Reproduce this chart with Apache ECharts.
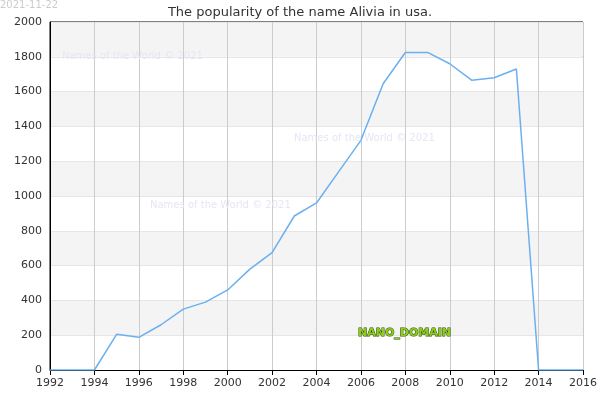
<!DOCTYPE html>
<html><head><meta charset="utf-8">
<script src="https://cdn.jsdelivr.net/npm/echarts@6/dist/echarts.min.js"></script>
<style>html,body{margin:0;padding:0;background:#fff}#c{width:600px;height:400px}</style>
</head><body><div id="c"></div>
<script>
const years = [1992,1993,1994,1995,1996,1997,1998,1999,2000,2001,2002,2003,2004,2005,2006,2007,2008,2009,2010,2011,2012,2013,2014,2015,2016];
const values = [0,0,0,205,188,260,350,390,460,580,675,885,960,1140,1320,1645,1825,1825,1760,1665,1680,1730,0,0,0];
const titleText = "The popularity of the name Alivia in usa.";
const dateText = "2021-11-22";
const wm = "Names of the World © 2021";
const chart = echarts.init(document.getElementById('c'));
const F = 'DejaVu Sans';
function txt(x,y,t,fill,extra){return Object.assign({type:'text',x:x,y:y,z:100,style:Object.assign({text:t,fontFamily:F,fontSize:10,fill:fill},extra||{})});}
chart.setOption({
  animation:false,
  title:{text:titleText,left:'center',top:1,textStyle:{fontFamily:F,fontSize:13,fontWeight:'normal',color:'#333'}},
  graphic:{elements:[
    txt(0,0,dateText,'#ccc'),
    txt(62,51,wm,'#e6e6f5'),
    txt(294,133,wm,'#e6e6f5'),
    txt(150,200,wm,'#e6e6f5'),
    txt(358,328,'NANO_DOMAIN','#8fcc1e',{fontSize:11,fontWeight:'bold',stroke:'#2d4a00',lineWidth:1})
  ]},
  grid:{left:50,right:14,top:22,bottom:30,show:true,borderColor:'#000',borderWidth:1,backgroundColor:'transparent'},
  xAxis:{type:'value',min:1992,max:2016,interval:2,
    axisLine:{lineStyle:{color:'#000'}},axisTick:{show:true,lineStyle:{color:'#000'}},
    axisLabel:{fontFamily:F,fontSize:11,color:'#333',formatter:v=>String(v)},
    splitLine:{show:true,lineStyle:{color:'#ccc'}}},
  yAxis:{type:'value',min:0,max:2000,interval:200,
    axisLine:{show:true,lineStyle:{color:'#000'}},axisTick:{show:false},
    axisLabel:{fontFamily:F,fontSize:11,color:'#333',formatter:v=>String(v)},
    splitLine:{show:true,lineStyle:{color:'#e6e6e6'}},
    splitArea:{show:true,areaStyle:{color:['#fff','#f4f4f4']}}},
  series:[{type:'line',data:years.map((y,i)=>[y,values[i]]),showSymbol:false,
    lineStyle:{color:'#6ab0f0',width:1.5}}]
});
</script></body></html>
